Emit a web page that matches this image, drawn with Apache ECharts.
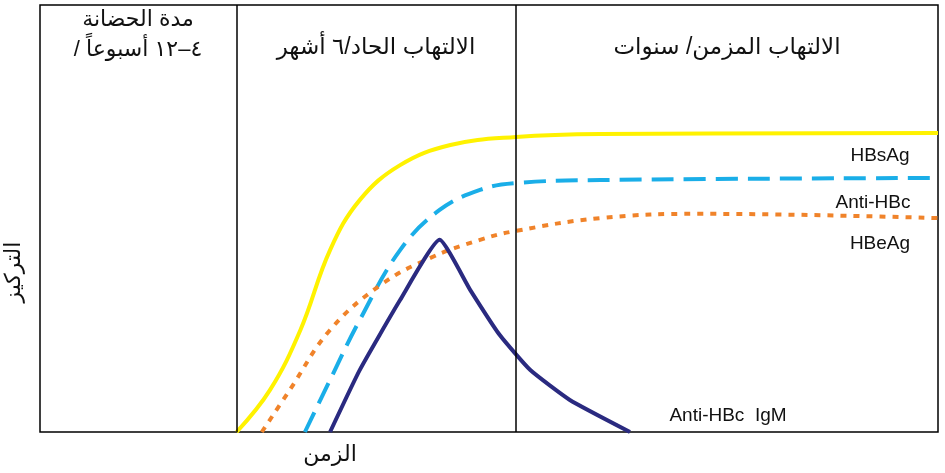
<!DOCTYPE html><html><head><meta charset="utf-8"><script src="https://cdn.jsdelivr.net/npm/echarts@6/dist/echarts.min.js"></script></head><body style="margin:0;background:#fff"><div id="c" style="width:945px;height:473px"></div><script>
const hbsag=[[21.9,0],[25.6,9.8],[29.0,23.9],[32.3,42.6],[35.6,54.3],[40.1,62.5],[45.7,67.2],[53.0,69.1],[62.4,69.8],[100,70.0]];
const antiHbc=[[29.5,0],[32.3,12.2],[35.6,26.2],[40.1,42.6],[44.5,52.0],[49.0,56.7],[53.0,58.3],[62.4,59.0],[100,59.5]];
const hbeag=[[24.7,0],[27.8,9.8],[32.3,23.9],[37.9,34.4],[43.4,40.7],[49.0,45.0],[53.0,47.1],[62.4,50.1],[73.5,51.1],[100,50.1]];
const igm=[[32.3,0],[35.6,14.5],[40.1,30.9],[44.5,45.0],[47.9,33.3],[51.2,22.7],[54.6,14.5],[59.0,7.5],[65.7,0]];
const dividers=[21.9,53.0];
const f='"Liberation Sans","Noto Sans","DejaVu Sans",sans-serif';
const ch=echarts.init(document.getElementById('c'));
function s(d,color,type,w,smooth){return{type:'line',data:d,smooth:smooth,symbol:'none',lineStyle:{color:color,width:w,type:type},z:3};}
const t=(x,y,txt,size,extra)=>Object.assign({type:'text',x:x,y:y,style:Object.assign({text:txt,font:size+'px '+f,fill:'#111',align:'center',verticalAlign:'middle'},extra||{})});
ch.setOption({animation:false,
grid:{left:40,right:7,top:5,bottom:41,show:true,borderColor:'#000',borderWidth:1.5},
xAxis:{type:'value',min:0,max:100,show:false},
yAxis:{type:'value',min:0,max:100,show:false},
series:[
Object.assign(s(hbsag,'#fff200','solid',4,0.4),{markLine:{symbol:'none',silent:true,label:{show:false},lineStyle:{color:'#000',width:1.5,type:'solid'},data:dividers.map(v=>({xAxis:v}))}}),
s(antiHbc,'#1aaee8',[22,10],4,0.4),
s(hbeag,'#f0832a',[6,7],4,0.4),
s(igm,'#2a2a80','solid',4,0.15)
],
graphic:[
t(138,20,'مدة الحضانة',22),t(138,50,'/ ٤–١٢ أسبوعاً',22),
t(376,48,'الالتهاب الحاد/٦ أشهر',23),
t(727,48,'الالتهاب المزمن/ سنوات',23),
t(880,156,'HBsAg',19),t(873,203,'Anti-HBc',19),t(880,244,'HBeAg',19),
t(728,416,'Anti-HBc  IgM',19),
t(330,455,'الزمن',22),
{type:'text',x:14,y:272,rotation:Math.PI/2,style:{text:'التركيز',font:'22px '+f,fill:'#111',align:'center',verticalAlign:'middle'}}
]});
</script></body></html>
